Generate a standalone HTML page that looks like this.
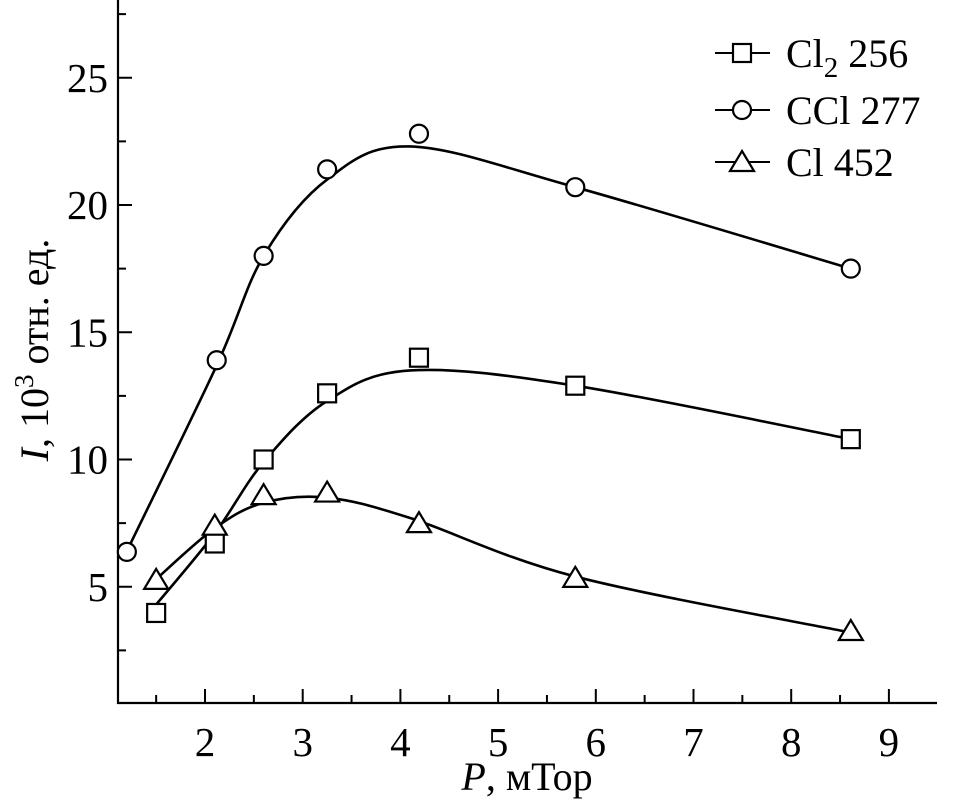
<!DOCTYPE html>
<html><head><meta charset="utf-8"><style>
body{margin:0;background:#fff}
svg text{font-family:"Liberation Serif",serif;fill:#000}
</style></head><body>
<svg id="c" width="954" height="800"></svg>
<script>
const xTicks=[2,3,4,5,6,7,8,9];
const yTicks=[5,10,15,20,25];
const px=[1.5,2.1,2.6,3.25,4.19,5.79,8.61];
const cclX=[1.2,2.12,2.6,3.25,4.19,5.79,8.61];
const cclPts=[6.37,13.9,18.0,21.4,22.8,20.7,17.5];
const cl2Pts=[3.97,6.7,10.0,12.6,14.0,12.9,10.8];
const clPts=[5.27,7.4,8.6,8.7,7.5,5.35,3.26];
const cclFitX=[1.2,2.12,2.6,3.25,4.1,5.79,8.61];
const fitX=[1.5,2.1,2.6,3.25,4.1,5.79,8.61];
const cclFit=[6.4,13.7,18.0,21.0,22.3,20.7,17.5];
const cl2Fit=[4.3,7.1,9.9,12.3,13.5,12.9,10.8];
const clFit=[5.3,7.3,8.3,8.5,7.7,5.4,3.2];
const NS="http://www.w3.org/2000/svg";
const svg=document.getElementById('c');
const X=v=>9.6+97.7*v, Y=v=>714-25.45*v;
function el(t,a,p){const e=document.createElementNS(NS,t);for(const k in a)e.setAttribute(k,a[k]);(p||svg).appendChild(e);return e;}
const L=118,B=703,R=937;
let ax=el('path',{d:`M${L},0V${B}H${R}`,stroke:'#000','stroke-width':2.2,fill:'none'});


xTicks.forEach(v=>{
 let t=el('line',{x1:X(v),x2:X(v),y1:B,y2:B-14,stroke:'#000','stroke-width':2});
 
 
 let m=el('line',{x1:X(v-0.5),x2:X(v-0.5),y1:B,y2:B-8,stroke:'#000','stroke-width':2});
 
 
 let s=el('text',{x:X(v),y:B+53,'font-size':41,'text-anchor':'middle'});s.textContent=v;
 
 
});
yTicks.forEach(v=>{
 let t=el('line',{x1:L,x2:L+14,y1:Y(v),y2:Y(v),stroke:'#000','stroke-width':2});
 
 
 let m=el('line',{x1:L,x2:L+8,y1:Y(v-2.5),y2:Y(v-2.5),stroke:'#000','stroke-width':2});
 
 
 let s=el('text',{x:L-10,y:Y(v)+14,'font-size':41,'text-anchor':'end'});s.textContent=v;
 
 
});
let m2=el('line',{x1:L,x2:L+8,y1:Y(27.5),y2:Y(27.5),stroke:'#000','stroke-width':2});


function curve(xs,ys){
 const P=xs.map((x,i)=>[X(x),Y(ys[i])]);
 let d=`M${P[0][0]},${P[0][1]}`;
 for(let i=0;i<P.length-1;i++){
  const p0=P[Math.max(0,i-1)],p1=P[i],p2=P[i+1],p3=P[Math.min(P.length-1,i+2)];
  d+=`C${p1[0]+(p2[0]-p0[0])/6},${p1[1]+(p2[1]-p0[1])/6} ${p2[0]-(p3[0]-p1[0])/6},${p2[1]-(p3[1]-p1[1])/6} ${p2[0]},${p2[1]}`;
 }
 return d;
}
function marker(type,cx,cy,g){
 if(type==='sq')return el('rect',{x:cx-9,y:cy-9,width:18,height:18,fill:'#fff',stroke:'#000','stroke-width':2.2},g);
 if(type==='ci')return el('circle',{cx,cy,r:9,fill:'#fff',stroke:'#000','stroke-width':2.2},g);
 return el('path',{d:`M${cx},${cy-11}L${cx+12},${cy+9}L${cx-12},${cy+9}Z`,fill:'#fff',stroke:'#000','stroke-width':2.2},g);
}
[['ccl',cclFitX,cclFit,cclX,cclPts,'ci'],['cl2',fitX,cl2Fit,px,cl2Pts,'sq'],['cl',fitX,clFit,px,clPts,'tr']].forEach(([n,fx,f,xs,p,t])=>{
 const g=el('g',{});
 
 
 let c=el('path',{d:curve(fx,f),fill:'none',stroke:'#000','stroke-width':2.6},g);
 
 
 p.forEach((v,i)=>{const m=marker(t,X(xs[i]),Y(v),g);
  
  });
});
[['sq',53,'Cl','2',' 256'],['ci',110,'CCl 277','',''],['tr',162,'Cl 452','','']].forEach(([t,y,a,sub,b])=>{
 const g=el('g',{});
 
 
 el('line',{x1:715,x2:770,y1:y,y2:y,stroke:'#000','stroke-width':2},g);
 marker(t,742,y,g);
 const tx=el('text',{x:786,y:y+14,'font-size':40},g);
 tx.appendChild(document.createTextNode(a));
 if(sub){const ts=el('tspan',{'font-size':29,dy:10},tx);ts.textContent=sub;const t2=el('tspan',{dy:-10},tx);t2.textContent=b;}
});
const xl=el('text',{x:527,y:790,'font-size':40,'text-anchor':'middle'});


xl.innerHTML='<tspan font-style="italic">P</tspan>, мТор';
const yl=el('text',{x:0,y:0,'font-size':40,'text-anchor':'middle',transform:'translate(48,350) rotate(-90)'});


yl.innerHTML='<tspan font-style="italic">I</tspan>, 10<tspan font-size="27" dy="-15">3</tspan><tspan dy="15"> отн. ед.</tspan>';
</script>
</body></html>
